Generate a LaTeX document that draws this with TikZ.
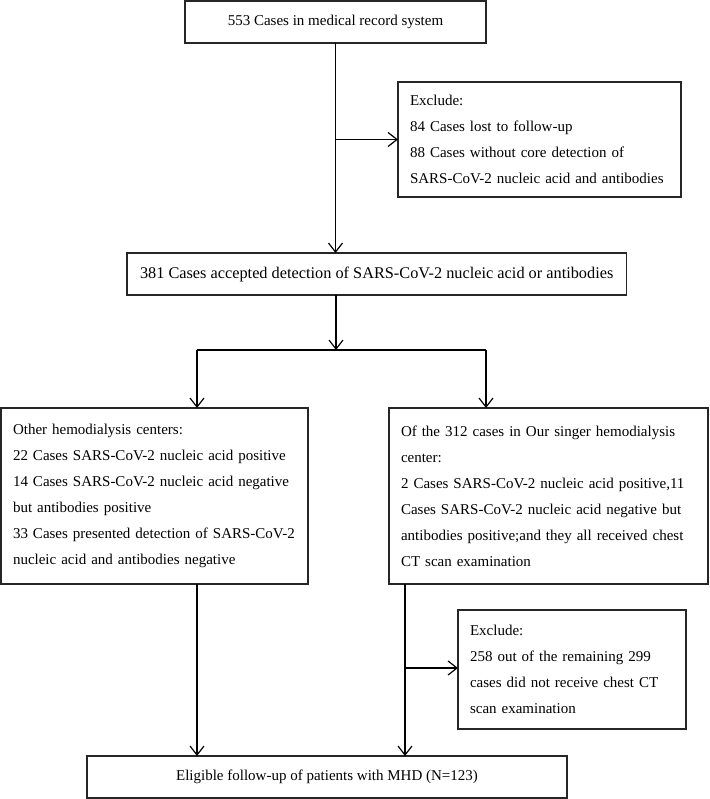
\documentclass[tikz,border=0pt]{standalone}
\usepackage{fontspec}
\setmainfont{Liberation Serif}
\usepackage{tikz}
\usetikzlibrary{arrows.meta,positioning,calc}
\tikzset{
	>={Straight Barb[length=9pt,width=14pt]},
	dedge/.style={arrows=->, black, line width=1.2pt},
}
\tikzstyle{nrect} = [rectangle, draw=black!85, line width=1.2pt, outer sep=0pt, inner xsep=13pt, inner ysep=0pt, font=\fontsize{15}{26}\selectfont, anchor=north west]
\tikzstyle{ntext} = [nrect, align=left, inner xsep=12pt]

\begin{document}
\begin{tikzpicture}[x=1pt,y=-1pt]
	\useasboundingbox (0,0) rectangle (709,799);
	
	\node[nrect, minimum width=301pt, minimum height=42pt] (top) at (185,1) {553 Cases in medical record system};
	\node[ntext, text width=259pt, minimum height=115pt] (excl1) at (398,82)
	{Exclude:\\84 Cases lost to follow-up\\88 Cases without core detection of\\SARS-CoV-2 nucleic acid and antibodies};
	\node[nrect, minimum width=482pt, minimum height=42pt, font=\fontsize{16.3}{20}\selectfont] (acc) at (127,253) {381 Cases accepted detection of SARS-CoV-2 nucleic acid or antibodies};
	
	\node[ntext, text width=283pt, minimum height=176pt] (other) at (1,408)
	{Other hemodialysis centers:\\22 Cases SARS-CoV-2 nucleic acid positive\\14 Cases SARS-CoV-2 nucleic acid negative\\but antibodies positive\\33 Cases presented detection of SARS-CoV-2\\nucleic acid and antibodies negative};
	\node[ntext, text width=295pt, minimum height=176pt] (ours) at (389,408)
	{Of the 312 cases in Our singer hemodialysis\\center:\\2 Cases SARS-CoV-2 nucleic acid positive,11\\Cases SARS-CoV-2 nucleic acid negative but\\antibodies positive;and they all received chest\\CT scan examination};
	
	\node[ntext, text width=204pt, minimum height=119pt] (excl2) at (458,610)
	{Exclude:\\258 out of the remaining 299\\cases did not receive chest CT\\scan examination};
	\node[nrect, minimum width=480pt, minimum height=42pt] (final) at (87,756) {Eligible follow-up of patients with MHD (N=123)};
	
	% top part
	\draw[dedge] (top.south) -- (top.south |- acc.north);
	\draw[dedge] (top.south |- excl1.west) -- (excl1.west);
	
	% split into the two centers
	\coordinate (split) at (336,350);
	\coordinate (lfork) at (197,350);
	\coordinate (rfork) at (486,350);
	\draw[dedge] (acc.south -| split) -- (split);
	\draw[line width=1.2pt] (lfork) -- (rfork);
	\draw[dedge] (lfork) -- (lfork |- other.north);
	\draw[dedge] (rfork) -- (rfork |- ours.north);
	
	% down to the eligible patients
	\coordinate (rline) at (405,668);
	\draw[dedge] (other.south -| lfork) -- (lfork |- final.north);
	\draw[dedge] (ours.south -| rline) -- (rline |- final.north);
	\draw[dedge] (rline) -- (rline -| excl2.west);
\end{tikzpicture}
\end{document}
